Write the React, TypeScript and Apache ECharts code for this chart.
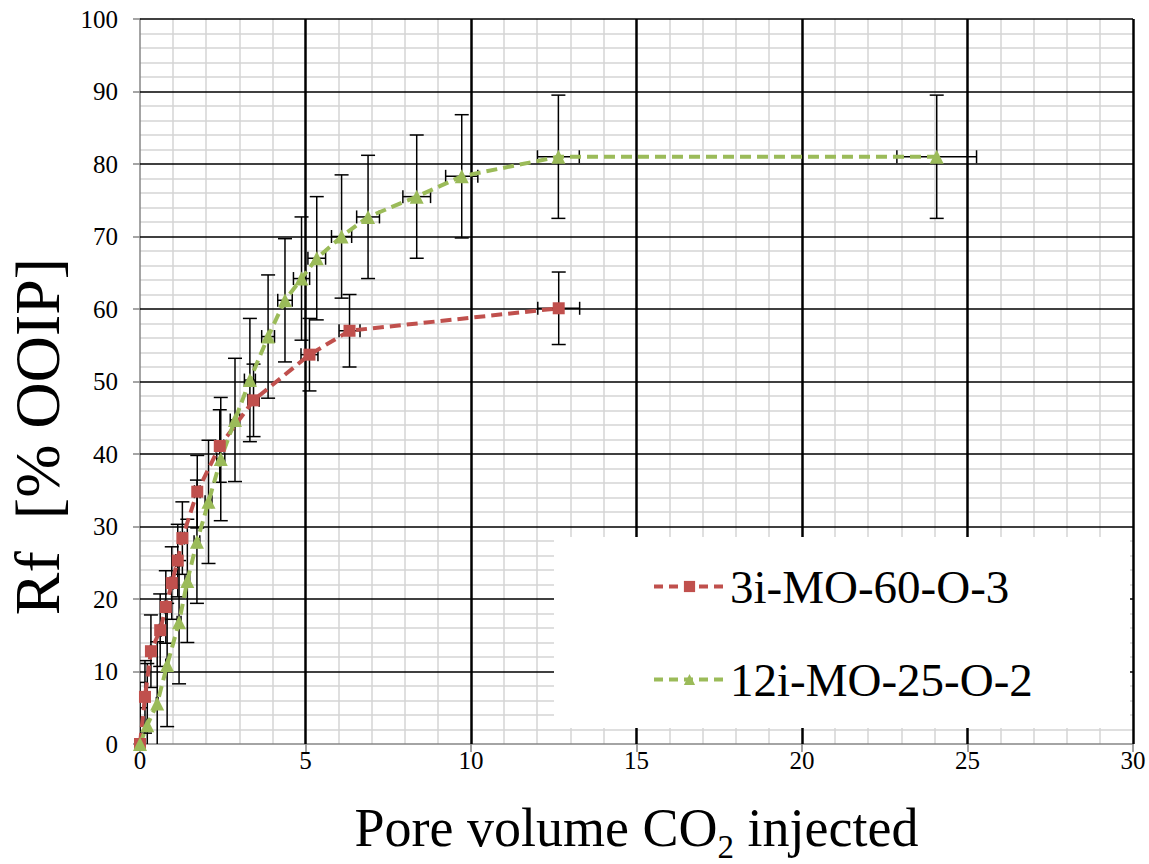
import React, { useEffect, useRef } from "react";
import * as echarts from "echarts";

const redName = "3i-MO-60-O-3";
const greenName = "12i-MO-25-O-2";

const redX = [0, 0.15, 0.33, 0.61, 0.78, 0.96, 1.14, 1.28, 1.73, 2.41, 3.43, 5.12, 6.33, 12.65];
const redY = [0, 6.5, 12.8, 15.7, 18.9, 22.2, 25.3, 28.4, 34.8, 41.1, 47.4, 53.7, 57.0, 60.1];

const greenX = [0, 0.22, 0.52, 0.82, 1.18, 1.43, 1.72, 2.07, 2.44, 2.87, 3.32, 3.87, 4.38, 4.88, 5.34, 6.09, 6.89, 8.36, 9.72, 12.64, 24.07];
const greenY = [0, 2.6, 5.6, 10.9, 16.8, 22.5, 27.9, 33.4, 39.3, 44.7, 50.2, 56.2, 61.2, 64.2, 67.0, 70.0, 72.7, 75.5, 78.3, 81.0, 81.0];

// error bar settings (Excel-style): x error as a percentage of x, y error fixed
const xErrPercent = 5;
const redYErr = 5;
const greenYErr = 8.5;

const xTicks = [0, 5, 10, 15, 20, 25, 30];
const yTicks = [0, 10, 20, 30, 40, 50, 60, 70, 80, 90, 100];

const FONT = "Liberation Serif";

export default function App() {
  const ref = useRef<HTMLDivElement>(null);

  useEffect(() => {
    if (!ref.current) return;
    const chart = echarts.init(ref.current, null, { renderer: "svg" });

    const redData = redX.map((x, i) => [x, redY[i]]);
    const greenData = greenX.map((x, i) => [x, greenY[i]]);
    const redErr = redX.map((x, i) => [x, redY[i], (x * xErrPercent) / 100, redYErr]);
    const greenErr = greenX.map((x, i) => [x, greenY[i], (x * xErrPercent) / 100, greenYErr]);

    const errRender = (params: any, api: any) => {
      const x = api.value(0);
      const y = api.value(1);
      const ex = api.value(2);
      const ey = api.value(3);
      const c = api.coord([x, y]);
      const l = api.coord([x - ex, y]);
      const r = api.coord([x + ex, y]);
      const t = api.coord([x, y + ey]);
      const b = api.coord([x, y - ey]);
      const style = { stroke: "#000", lineWidth: 1.5 };
      const cw = 7;
      const ch = 6.5;
      const children: any[] = [
        { type: "line", shape: { x1: c[0], y1: t[1], x2: c[0], y2: b[1] }, style },
        { type: "line", shape: { x1: c[0] - cw, y1: t[1], x2: c[0] + cw, y2: t[1] }, style },
        { type: "line", shape: { x1: c[0] - cw, y1: b[1], x2: c[0] + cw, y2: b[1] }, style },
      ];
      if (ex > 0) {
        children.push(
          { type: "line", shape: { x1: l[0], y1: c[1], x2: r[0], y2: c[1] }, style },
          { type: "line", shape: { x1: l[0], y1: c[1] - ch, x2: l[0], y2: c[1] + ch }, style },
          { type: "line", shape: { x1: r[0], y1: c[1] - ch, x2: r[0], y2: c[1] + ch }, style }
        );
      }
      return { type: "group", children };
    };

    const gridLineGray = "#d4d4d4";

    const option: any = {
      animation: false,
      backgroundColor: "#fff",
      textStyle: { fontFamily: FONT, color: "#000" },
      grid: { left: 140, right: 16, top: 19, bottom: 120, outerBoundsMode: "none", containLabel: false },
      xAxis: [
        {
          type: "value",
          min: xTicks[0],
          max: xTicks[xTicks.length - 1],
          interval: 5,
          position: "bottom",
          name: "{a|Pore volume CO}{b|2}{a| injected}",
          nameLocation: "middle",
          nameGap: 49,
          nameTextStyle: {
            fontFamily: FONT,
            color: "#000",
            rich: {
              a: { fontFamily: FONT, fontSize: 54, color: "#000", lineHeight: 56 },
              b: { fontFamily: FONT, fontSize: 33, color: "#000", lineHeight: 70, verticalAlign: "bottom" },
            },
          },
          axisLine: { show: true, lineStyle: { color: "#868686", width: 1.5 } },
          axisTick: { show: true, inside: false, length: 8, lineStyle: { color: "#868686", width: 1.5 } },
          axisLabel: { fontFamily: FONT, fontSize: 25, color: "#000", margin: 4 },
          splitLine: { show: false },
          minorTick: { show: false, splitNumber: 5 },
          minorSplitLine: { show: true, lineStyle: { color: gridLineGray, width: 1.5 } },
          z: 0,
        },
        {
          type: "value",
          min: xTicks[0],
          max: xTicks[xTicks.length - 1],
          interval: 5,
          position: "bottom",
          axisLine: { show: false },
          axisTick: { show: false },
          axisLabel: { show: false },
          splitLine: { show: true, showMinLine: false, lineStyle: { color: "#000", width: 2.5 } },
          z: 1,
        },
      ],
      yAxis: [
        {
          type: "value",
          min: yTicks[0],
          max: yTicks[yTicks.length - 1],
          interval: 10,
          position: "left",
          name: "Rf  [% OOIP]",
          nameLocation: "middle",
          nameGap: 68,
          nameTextStyle: { fontFamily: FONT, fontSize: 64, color: "#000", padding: [0, 110, 0, 0] },
          axisLine: { show: true, lineStyle: { color: "#868686", width: 1.5 } },
          axisTick: { show: true, inside: false, length: 7, lineStyle: { color: "#868686", width: 1.5 } },
          axisLabel: { fontFamily: FONT, fontSize: 25, color: "#000", margin: 22 },
          splitLine: { show: false },
          minorTick: { show: false, splitNumber: 5 },
          minorSplitLine: { show: true, lineStyle: { color: gridLineGray, width: 1.5 } },
          z: 0,
        },
        {
          type: "value",
          min: yTicks[0],
          max: yTicks[yTicks.length - 1],
          interval: 10,
          position: "left",
          axisLine: { show: false },
          axisTick: { show: false },
          axisLabel: { show: false },
          splitLine: { show: true, showMinLine: false, lineStyle: { color: "#000", width: 1.5 } },
          z: 1,
        },
      ],
      legend: {
        orient: "vertical",
        left: 647,
        top: 558,
        itemGap: 46,
        itemWidth: 71,
        itemHeight: 14,
        data: [redName, greenName],
        lineStyle: { width: 4, type: [9, 6] },
        textStyle: { fontFamily: FONT, fontSize: 47, color: "#000" },
        z: 5,
      },
      graphic: [
        {
          type: "rect",
          shape: { x: 554, y: 537, width: 576, height: 191 },
          style: { fill: "#fff" },
          z: 4,
          silent: true,
        },
      ],
      series: [
        {
          type: "custom",
          name: "redErr",
          renderItem: errRender,
          data: redErr,
          encode: { x: 0, y: 1 },
          clip: true,
          z: 2,
        },
        {
          type: "custom",
          name: "greenErr",
          renderItem: errRender,
          data: greenErr,
          encode: { x: 0, y: 1 },
          clip: true,
          z: 2,
        },
        {
          type: "line",
          name: redName,
          data: redData,
          symbol: "rect",
          symbolSize: 12,
          itemStyle: { color: "#c0504d" },
          lineStyle: { color: "#c0504d", width: 4, type: [11, 6] },
          z: 3,
        },
        {
          type: "line",
          name: greenName,
          data: greenData,
          symbol: "triangle",
          symbolSize: 14,
          itemStyle: { color: "#9bbb59" },
          lineStyle: { color: "#9bbb59", width: 4, type: [11, 6] },
          z: 3,
        },
      ],
    };

    chart.setOption(option);
    return () => chart.dispose();
  }, []);

  return (
    <div
      ref={ref}
      style={{ position: "absolute", left: 0, top: 0, width: 1149, height: 864 }}
    />
  );
}
